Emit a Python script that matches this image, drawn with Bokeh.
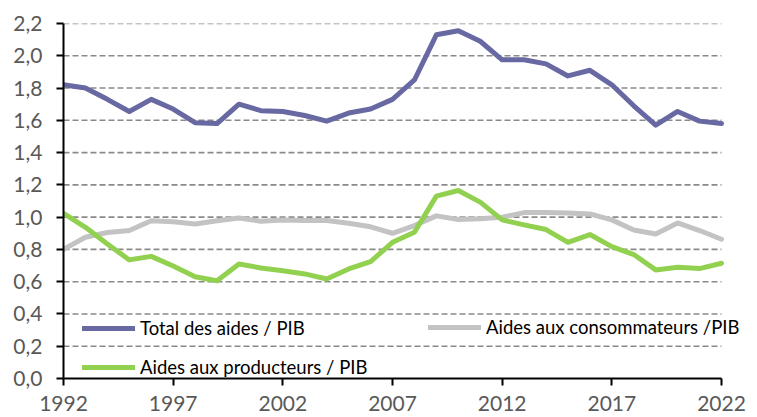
from bokeh.plotting import figure
from bokeh.models import Range1d, FixedTicker, CustomJSTickFormatter, Legend, LegendItem
from bokeh.embed import file_html
from bokeh.resources import INLINE

years = list(range(1992, 2023))
total = [1.82, 1.80, 1.73, 1.655, 1.73, 1.67, 1.585, 1.58, 1.70, 1.66, 1.655, 1.63, 1.595,
         1.645, 1.67, 1.73, 1.85, 2.13, 2.155, 2.09, 1.975, 1.975, 1.95, 1.875, 1.91, 1.82,
         1.69, 1.57, 1.655, 1.595, 1.58]
consommateurs = [0.80, 0.875, 0.905, 0.917, 0.978, 0.972, 0.958, 0.978, 0.995, 0.975, 0.983,
                 0.979, 0.979, 0.962, 0.94, 0.90, 0.948, 1.008, 0.985, 0.99, 1.0, 1.028, 1.028,
                 1.025, 1.02, 0.983, 0.92, 0.896, 0.964, 0.917, 0.863]
producteurs = [1.024, 0.937, 0.834, 0.735, 0.757, 0.697, 0.631, 0.606, 0.71, 0.685, 0.668,
               0.648, 0.617, 0.679, 0.724, 0.844, 0.906, 1.13, 1.165, 1.093, 0.983, 0.952,
               0.923, 0.844, 0.892, 0.817, 0.768, 0.673, 0.689, 0.681, 0.714]
x_ticks = [1992, 1997, 2002, 2007, 2012, 2017, 2022]
y_ticks = [0.0, 0.2, 0.4, 0.6, 0.8, 1.0, 1.2, 1.4, 1.6, 1.8, 2.0, 2.2]
labels = ["Total des aides / PIB", "Aides aux consommateurs /PIB", "Aides aux producteurs / PIB"]

PURPLE = "#6868A2"
GRAY = "#C3C3C3"
GREEN = "#92D050"
FONT = "Lato"
LEG_SIZE = "18.5px"

# plot area runs 658 px for 30 years; extra room on the right lets the legend text run past 2022
x_start, x_end = years[0], years[-1]
px_per_year = 658 / (x_end - x_start)
x_pad = 36 / px_per_year

p = figure(width=757, height=417, x_range=Range1d(x_start, x_end + x_pad), y_range=Range1d(0, 2.2),
           output_backend="svg", toolbar_location=None,
           min_border_left=63, min_border_right=0, min_border_top=23, min_border_bottom=39)
p.outline_line_color = None
p.background_fill_color = "white"

p.xgrid.grid_line_color = None
p.ygrid.grid_line_color = None
grid_y = y_ticks[1:]
p.segment(x0=[x_start] * len(grid_y), x1=[x_end] * len(grid_y), y0=grid_y, y1=grid_y,
          line_color="#8A8A8A", line_width=1.6, line_dash="6 3")

p.xaxis.ticker = FixedTicker(ticks=x_ticks)
p.yaxis.ticker = FixedTicker(ticks=y_ticks)
p.xaxis.bounds = (x_start, x_end)
p.yaxis.formatter = CustomJSTickFormatter(code="return tick.toFixed(1).replace('.', ',');")
for ax in (p.xaxis, p.yaxis):
    ax.axis_line_color = "black"
    ax.axis_line_width = 2
    ax.major_tick_line_color = "black"
    ax.major_tick_line_width = 2
    ax.minor_tick_line_color = None
    ax.major_tick_in = 0
    ax.major_label_text_font = FONT
    ax.major_label_text_color = "#595959"
    ax.major_label_text_font_size = "21px"
p.xaxis.major_tick_out = 7
p.yaxis.major_tick_out = 7
p.xaxis.major_label_standoff = 10
p.yaxis.major_label_standoff = 14

r_cons = p.line(years, consommateurs, line_color=GRAY, line_width=5, line_cap="round", line_join="round")
r_prod = p.line(years, producteurs, line_color=GREEN, line_width=5, line_cap="round", line_join="round")
r_tot = p.line(years, total, line_color=PURPLE, line_width=5, line_cap="round", line_join="round")

def make_legend(items, loc):
    lg = Legend(items=items, location=loc, orientation="vertical",
                glyph_width=53, glyph_height=20, label_height=20, label_standoff=5,
                spacing=17, padding=0, margin=0,
                background_fill_alpha=0, border_line_color=None,
                label_text_font=FONT, label_text_font_size=LEG_SIZE, label_text_color="black")
    return lg

leg1 = make_legend([LegendItem(label=labels[0], renderers=[r_tot]),
                    LegendItem(label=labels[2], renderers=[r_prod])], (19, 0))
leg2 = make_legend([LegendItem(label=labels[1], renderers=[r_cons])], (365, 40))
p.add_layout(leg1, "center")
p.add_layout(leg2, "center")

open("out.html", "w").write(file_html(p, INLINE))
